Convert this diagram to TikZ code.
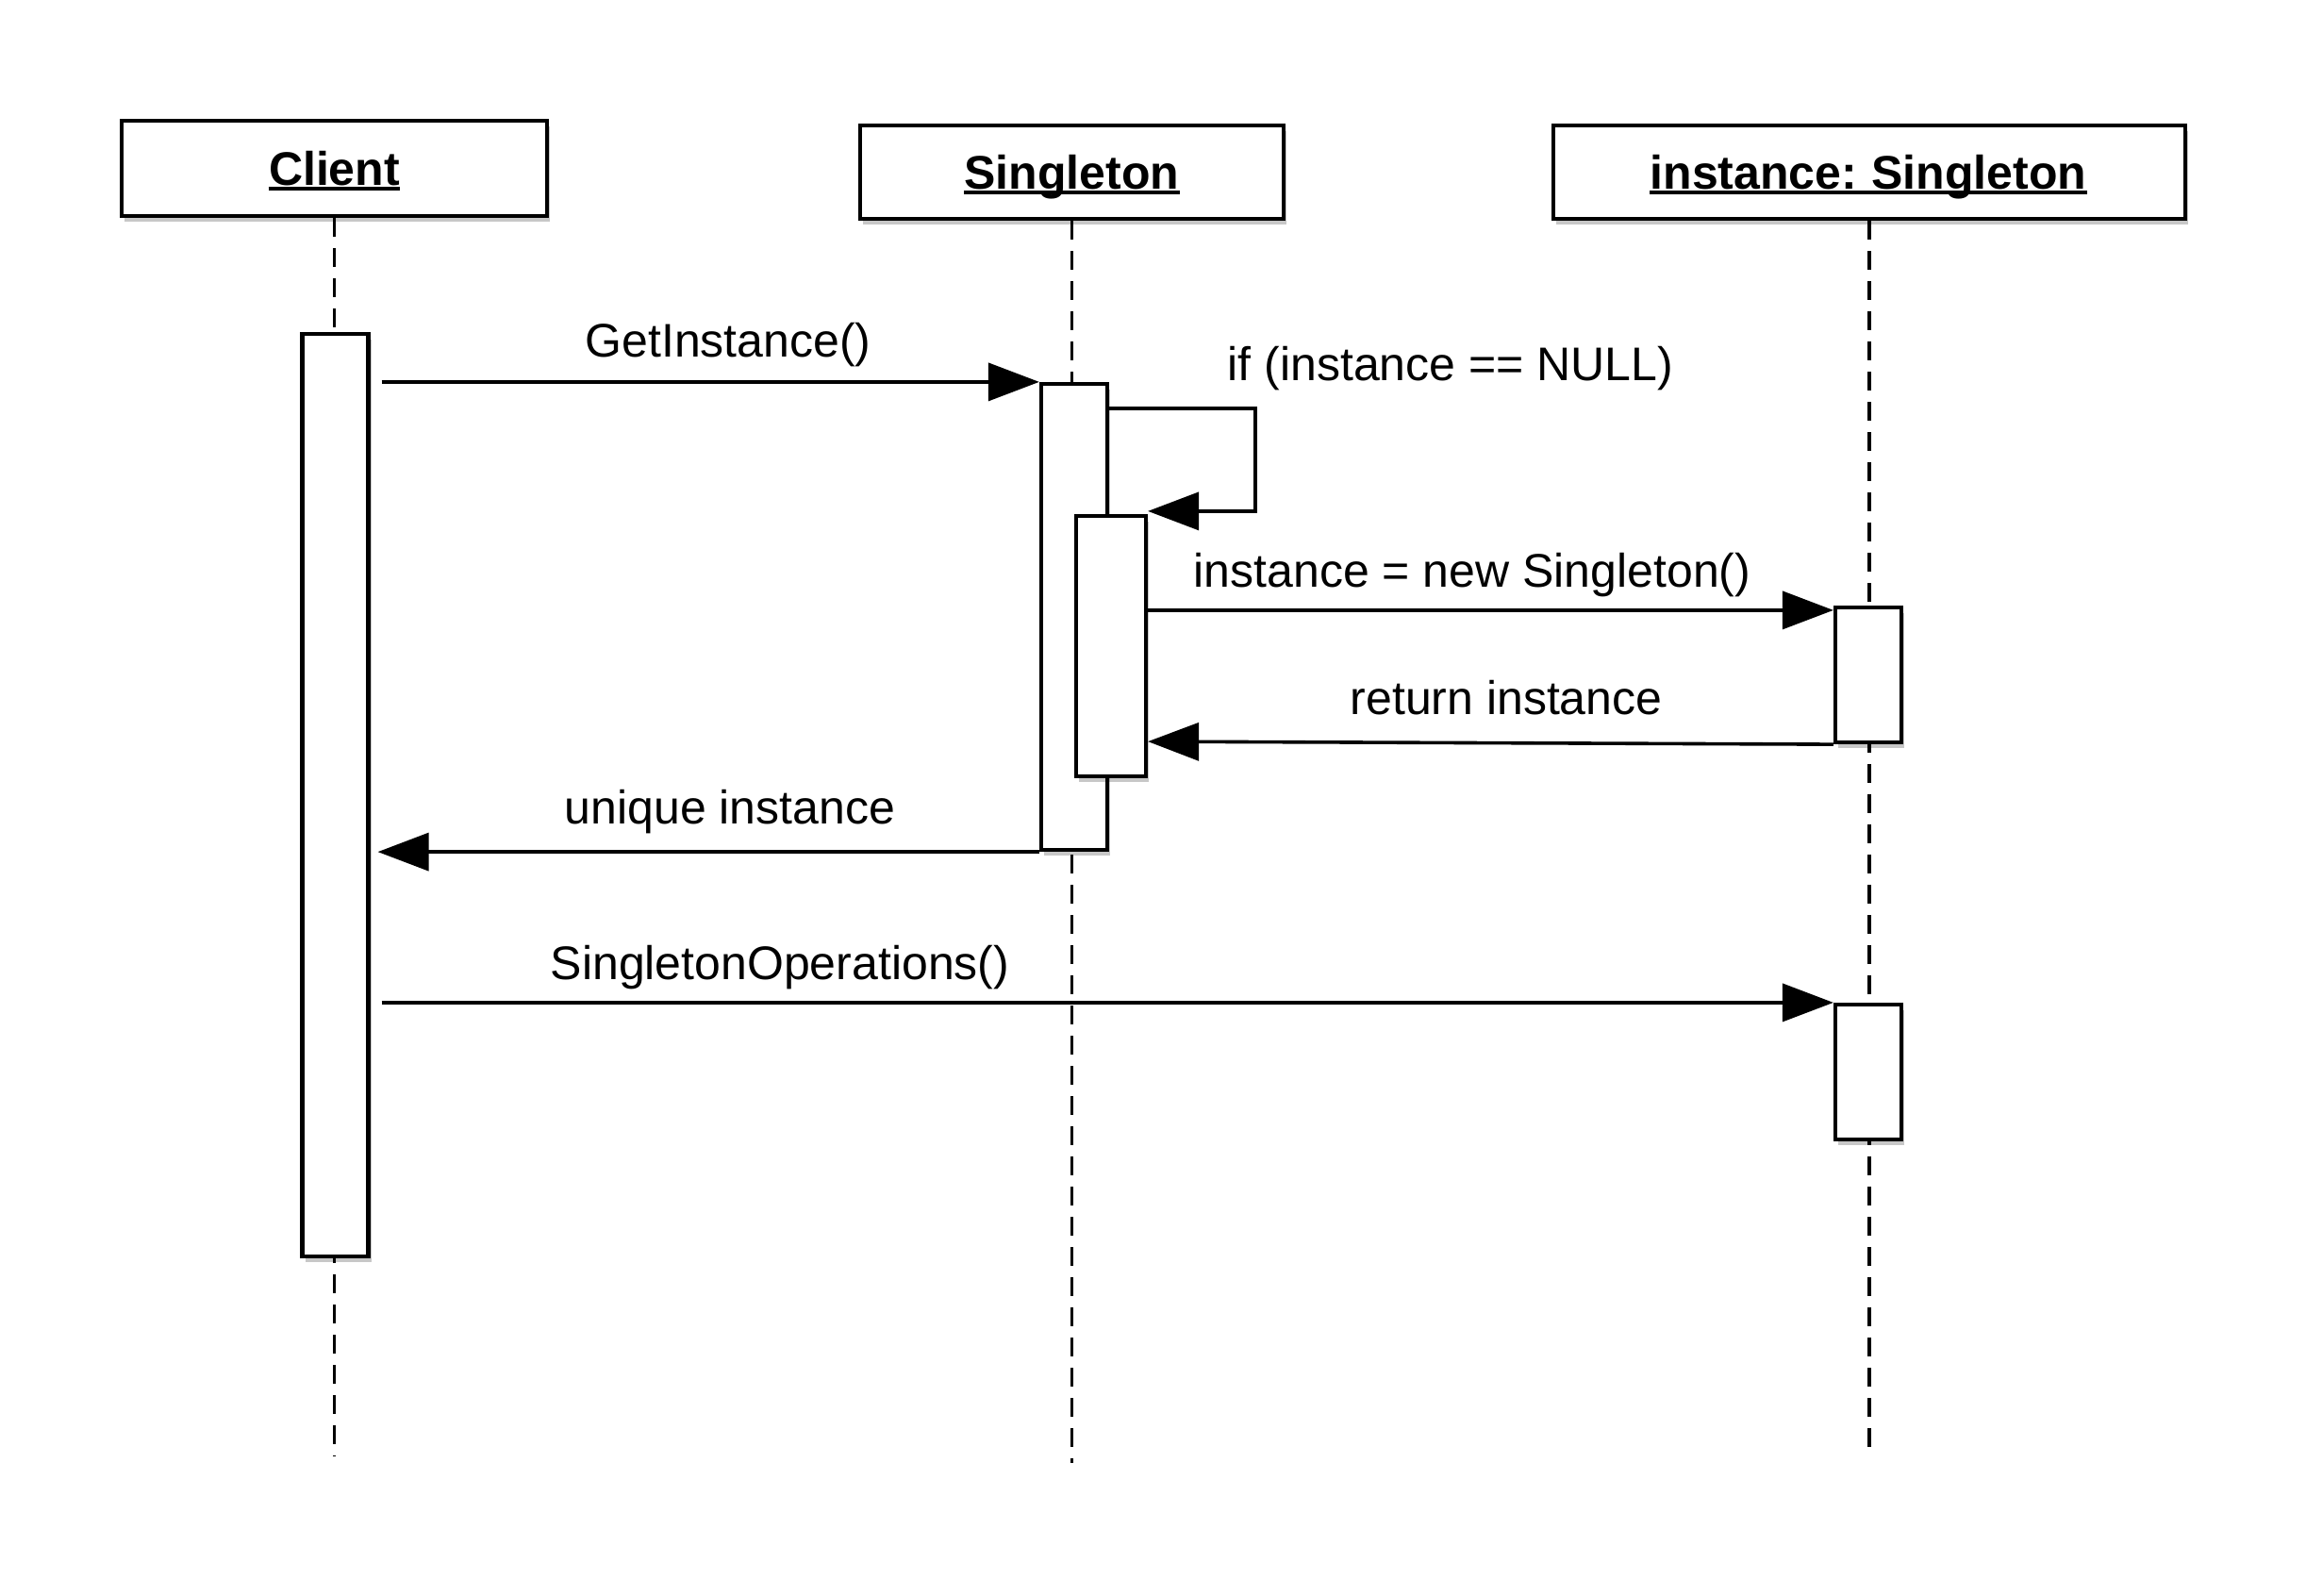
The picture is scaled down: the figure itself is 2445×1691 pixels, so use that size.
\documentclass[tikz,border=0pt]{standalone}
\usepackage{fontspec}
\setmainfont{Liberation Sans}
\usetikzlibrary{arrows.meta,shadows,calc}
\begin{document}
\begin{tikzpicture}[x=0.5pt,y=-0.5pt,
  shad/.style={drop shadow={shadow xshift=1.5pt,shadow yshift=-3pt,opacity=0.22,fill=black}},
  hdr/.style={draw,line width=2.3pt,fill=white,inner sep=0,shad},
  act/.style={draw,line width=2.1pt,fill=white,inner sep=0,minimum width=35pt,shad},
  life/.style={line width=1.6pt,dash pattern=on 10pt off 6pt},
  msg/.style={line width=1.8pt,-{Triangle[length=27pt,width=20pt]}},
  lbl/.style={anchor=base,inner sep=0,font=\fontsize{25}{30}\selectfont},
  ttl/.style={anchor=base,inner sep=0,font=\fontsize{25}{30}\selectfont\bfseries},
  ul/.style={line width=1.6pt}
]
\useasboundingbox[fill=white] (0,0) rectangle (2445,1691);

% header boxes
\node[hdr,minimum width=225.5pt,minimum height=50.5pt] (client) at (354.5,178.5) {};
\node[hdr,minimum width=224.5pt,minimum height=49.5pt] (single) at (1136.5,182.5) {};
\node[hdr,minimum width=335pt,minimum height=49.5pt] (inst) at (1982,182.5) {};

\node[ttl] (tclient) at (354.5,196) {Client};
\node[ttl] (tsingle) at (1136.5,200) {Singleton};
\node[ttl] (tinst) at (1981,200) {instance:\hspace{-1.5pt} Singleton};
\draw[ul] ([yshift=-2pt]tclient.base west) -- ([yshift=-2pt]tclient.base east);
\draw[ul] ([yshift=-2pt]tsingle.base west) -- ([yshift=-2pt]tsingle.base east);
\draw[ul] ([yshift=-2pt]tinst.base west) -- ([yshift=-2pt]tinst.base east);

% lifelines
\coordinate (cend) at (357,1544);
\coordinate (send) at (1139,1551);
\coordinate (iend) at (1982,1544);
\draw[life] (client.south) -- (client.south |- cend);
\draw[life] (single.south) -- (single.south |- send);
\draw[life] (inst.south) -- (inst.south |- iend);

% activations
\node[act,minimum height=489pt] (ca) at (355.5,843) {};
\node[act,minimum height=247pt] (sa1) at (1139,654) {};
\node[act,minimum width=37pt,minimum height=138pt] (sa2) at (1178,685) {};
\node[act,minimum height=71.5pt] (ia1) at (1981,715.5) {};
\node[act,minimum height=71.5pt] (ia2) at (1981,1136.5) {};

% messages
\draw[msg] ([yshift=-14pt]sa1.north east) -| ([xshift=57pt,yshift=1.5pt]sa2.north east) -- ([yshift=1.5pt]sa2.north east);
\draw[msg] ([xshift=6pt]ca.east |- sa1.north) -- (sa1.north west);
\draw[msg] ([yshift=-2.5pt]sa2.east |- ia1.north) -- ([yshift=-2.5pt]ia1.north west);
\draw[msg] (ia1.south west) -- ([yshift=1.5pt]sa2.east |- ia1.south);
\draw[msg] (sa1.south west) -- ([xshift=4pt]ca.east |- sa1.south);
\draw[msg] ([xshift=6pt]ca.east |- ia2.north) -- (ia2.north west);

% labels
\node[lbl] (l1) at (772,378) {GetInstance()};
\node[lbl] (l2) at (1538,403) {if (instance == NULL)};
\node[lbl] (l3) at (1561,622) {instance = new Singleton()};
\node[lbl] (l4) at (1597,757) {return instance};
\node[lbl] (l5) at (774,873) {unique instance};
\node[lbl] (l6) at (827,1038) {SingletonOperations()};
\end{tikzpicture}
\end{document}
